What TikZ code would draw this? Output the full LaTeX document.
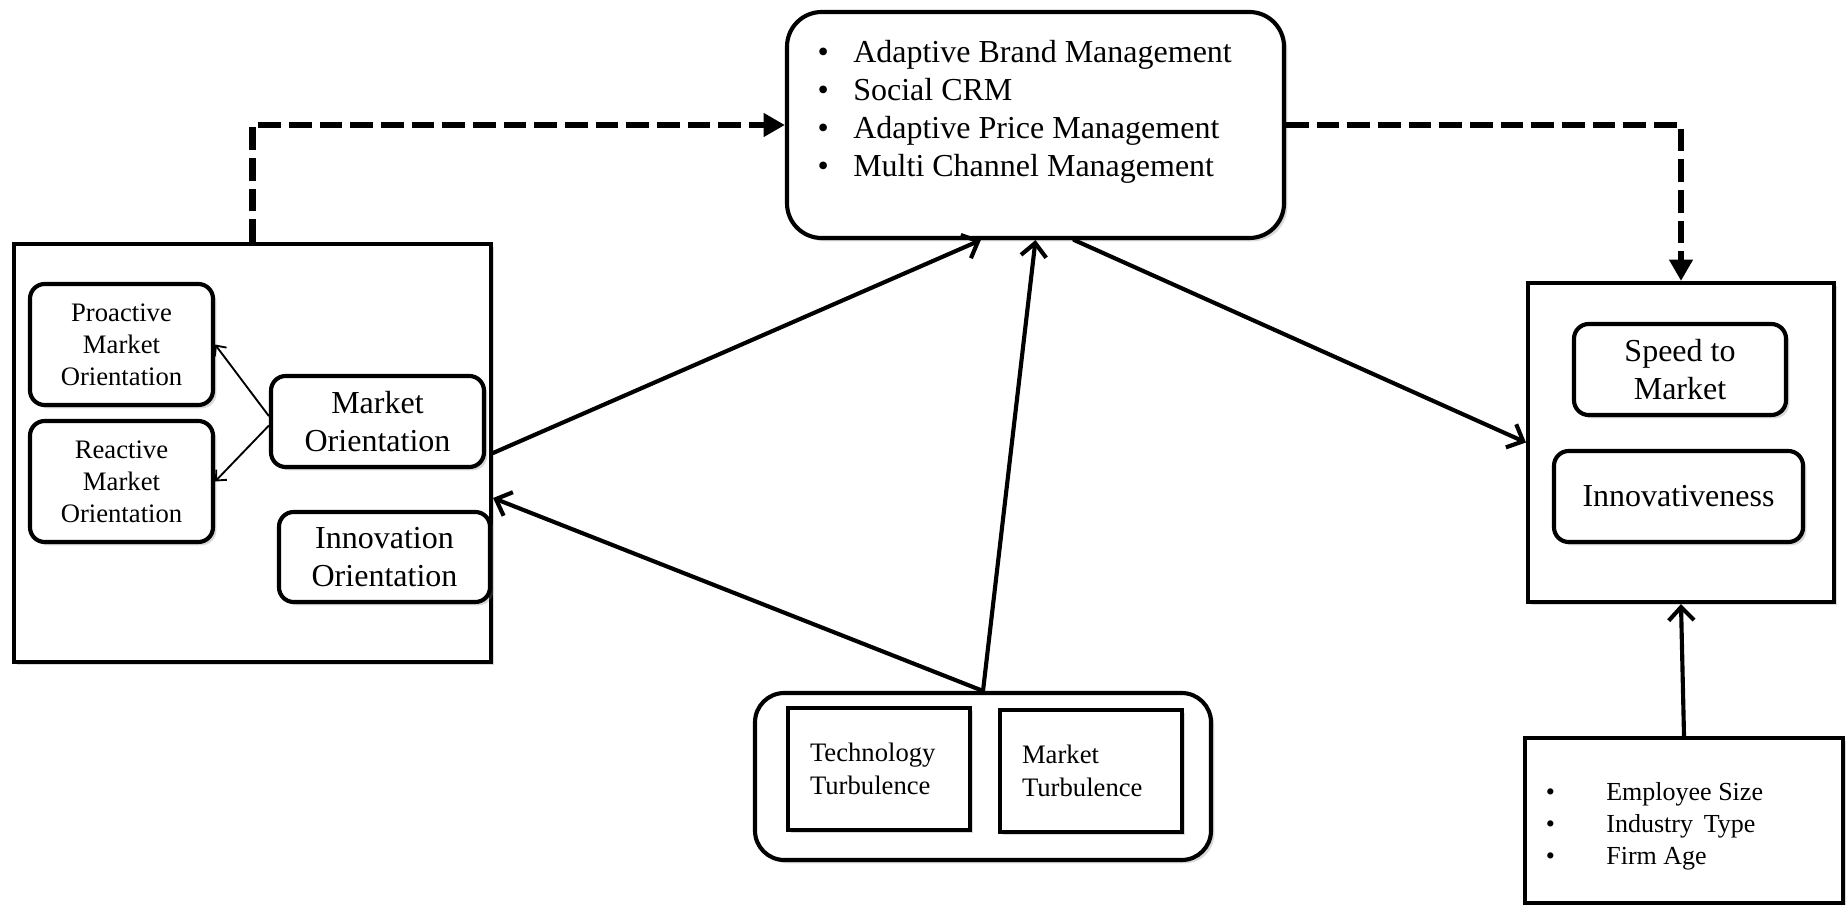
\documentclass[tikz,border=0pt]{standalone}
\usepackage{fontspec}
\setmainfont{Liberation Serif}
\usetikzlibrary{arrows.meta,shadows,calc}
\begin{document}
\begin{tikzpicture}[x=0.75pt,y=-0.75pt,
  sq/.style={draw, line width=3.1pt, inner sep=0pt, fill=white, align=center,
    drop shadow={opacity=0.3,shadow xshift=2.5pt,shadow yshift=-2.5pt}},
  rbox/.style={sq, rounded corners=11pt},
  fa/.style={font=\fontsize{20pt}{24pt}\selectfont},
  fb/.style={font=\fontsize{24pt}{28pt}\selectfont},
  arr/.style={line width=3.1pt, line cap=round, -{Straight Barb[length=10pt,width=19pt]}},
  thinarr/.style={line width=1.4pt, -{Straight Barb[length=6pt,width=11pt]}},
  dsh/.style={line width=4.8pt, dash pattern=on 17pt off 6pt, -{Triangle[length=16pt,width=17pt]}}
]
\useasboundingbox (0,0) rectangle (1847,905);

% left group
\node[sq, minimum width=357.75pt, minimum height=313.5pt] (leftbox) at (252.5,453) {};
\node[rbox, fa, minimum width=137.25pt, minimum height=90.75pt] (pro) at (121.5,344.5) {Proactive\\Market\\Orientation};
\node[rbox, fa, minimum width=137.25pt, minimum height=90.75pt] (rea) at (121.5,481.5) {Reactive\\Market\\Orientation};
\node[rbox, fb, minimum width=159.75pt, minimum height=68.25pt] (mo) at (377.5,421.5) {Market\\Orientation};
\node[rbox, fb, minimum width=158.25pt, minimum height=67.5pt] (io) at (384.5,557) {Innovation\\Orientation};

% top box
\node[sq, rounded corners=26pt, minimum width=372.75pt, minimum height=169.5pt] (top) at (1035.5,125) {};
\node[anchor=base west, inner sep=0pt, font=\fontsize{24pt}{28.5pt}\selectfont] (toptext) at (817.4,63)
  {\begin{tabular}[t]{@{}l@{\hspace{18.3pt}}l@{}}
   • & Adaptive Brand Management\\
   • & Social CRM\\
   • & Adaptive Price Management\\
   • & Multi Channel Management
   \end{tabular}};

% right group
\node[sq, minimum width=229.5pt, minimum height=239.25pt] (rightbox) at (1681,442.5) {};
\node[rbox, fb, minimum width=159pt, minimum height=68.25pt] (speed) at (1680,369.5) {Speed to\\Market};
\node[rbox, fb, minimum width=186.75pt, minimum height=68.25pt] (innov) at (1678.5,496.5) {Innovativeness};

% controls
\node[sq, minimum width=238.5pt, minimum height=123.75pt] (controls) at (1684,820.5) {};
\node[anchor=base west, inner sep=0pt, font=\fontsize{19.5pt}{24pt}\selectfont] (ctext) at (1545.5,800)
  {\begin{tabular}[t]{@{}l@{\hspace{38.6pt}}l@{}}
   • & Employee Size\\
   • & Industry\, Type\\
   • & Firm Age
   \end{tabular}};

% turbulence
\node[sq, rounded corners=22pt, minimum width=342pt, minimum height=125.25pt] (turb) at (983,776.5) {};
\node[sq, font=\fontsize{20pt}{25pt}\selectfont, text width=103.5pt, align=left,
      minimum width=136.5pt, minimum height=91.5pt] (tech) at (879,769) {Technology\\Turbulence};
\node[sq, font=\fontsize{20pt}{25pt}\selectfont, text width=103.5pt, align=left,
      minimum width=136.5pt, minimum height=91.5pt] (mkt) at (1091,771) {Market\\Turbulence};

% connectors
\draw[dsh] (leftbox.north) |- (top.west);
\draw[dsh] (top.east) -| (rightbox.north);
\draw[arr] (leftbox.east) -- ([xshift=-41pt]top.south);
\draw[arr] (turb.north) -- ([yshift=-33.75pt]leftbox.east);
\draw[arr] (turb.north) -- (top.south);
\draw[arr] ([xshift=29pt]top.south) -- (rightbox.west);
\draw[arr] (controls.north) -- (rightbox.south);
\draw[thinarr] ([yshift=4pt]mo.west) -- (pro.east);
\draw[thinarr] ([yshift=-3pt]mo.west) -- (rea.east);
\end{tikzpicture}
\end{document}
